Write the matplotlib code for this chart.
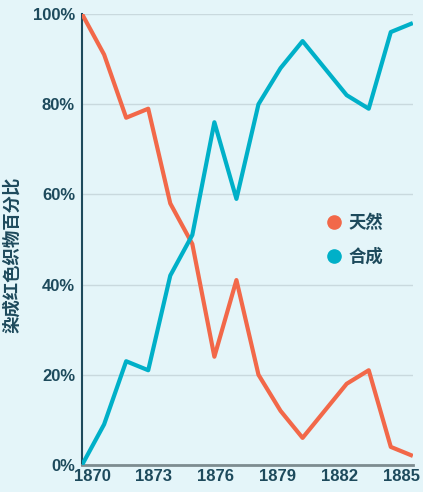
import numpy as np
import matplotlib.pyplot as plt
from matplotlib.lines import Line2D

plt.rcParams['font.family'] = ['Noto Sans CJK SC', 'DejaVu Sans']

years = list(range(1870, 1886))
natural = [100, 91, 77, 79, 58, 49, 24, 41, 20, 12, 6, 12, 18, 21, 4, 2]
synthetic = [0, 9, 23, 21, 42, 51, 76, 59, 80, 88, 94, 88, 82, 79, 96, 98]
series_names = ['天然', '合成']
xtick_labels = ['1870', '1873', '1876', '1879', '1882', '1885']
yticks = [0, 20, 40, 60, 80, 100]

bg = '#e4f5f9'
txt = '#1d4a5c'
red = '#f26849'
cyan = '#00b0c8'
num_font = ['Liberation Sans', 'DejaVu Sans']

fig = plt.figure(figsize=(4.23, 4.92), dpi=100, facecolor=bg)
ax = fig.add_axes([0.194, 0.055, 0.782, 0.9165], facecolor=bg)

ax.plot(years, natural, color=red, lw=3, solid_capstyle='butt', zorder=3)
ax.plot(years, synthetic, color=cyan, lw=3, solid_capstyle='butt', zorder=3)

ax.set_xlim(1870, 1885)
ax.set_ylim(0, 100)
# tick labels sit slightly inside the plot ends, as in the original
ax.set_xticks(np.linspace(1870.45, 1884.5, len(xtick_labels)))
ax.set_xticklabels(xtick_labels)
ax.set_yticks(yticks)
ax.set_yticklabels([f'{v}%' for v in yticks])
ax.grid(axis='y', color='#c9d9de', lw=1)
ax.set_axisbelow(True)

for s in ['top', 'right']:
    ax.spines[s].set_visible(False)
ax.spines['left'].set_color(txt)
ax.spines['left'].set_linewidth(1.5)
ax.spines['bottom'].set_color('#7d8c90')
ax.spines['bottom'].set_linewidth(2)
ax.tick_params(length=0, colors=txt)
ax.tick_params(axis='x', pad=3)
ax.tick_params(axis='y', pad=5)
for lab in ax.get_xticklabels() + ax.get_yticklabels():
    lab.set_fontfamily(num_font)
    lab.set_fontweight('bold')
    lab.set_fontsize(12)
    lab.set_color(txt)

ax.set_ylabel('染成红色织物百分比', fontsize=12.5, fontweight='bold', color=txt)
ax.yaxis.set_label_coords(-0.184, 0.466)

handles = [Line2D([], [], marker='o', ls='', ms=9.5, color=c) for c in (red, cyan)]
leg = ax.legend(handles, series_names, loc='center left', bbox_to_anchor=(0.688, 0.499),
                frameon=False, handlelength=1, handletextpad=0.36, labelspacing=0.9,
                prop={'weight': 'bold', 'size': 12.5})
for t in leg.get_texts():
    t.set_color(txt)

fig.savefig('out.png', dpi=100, facecolor=bg)
